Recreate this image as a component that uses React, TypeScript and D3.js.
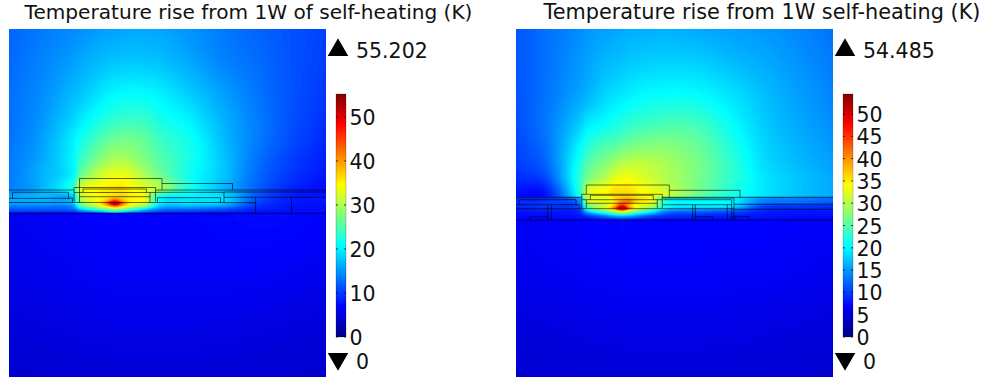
import React, { useMemo } from "react";
import * as d3 from "d3";

// ---------- data ----------
const titles = ["Temperature rise from 1W of self-heating (K)", "Temperature rise from 1W self-heating (K)"];
const maxValues = [55.202, 54.485];
const maxLabels = ["55.202", "54.485"];
const minLabels = ["0", "0"];
const ticksA = [0, 10, 20, 30, 40, 50];
const ticksB = [0, 5, 10, 15, 20, 25, 30, 35, 40, 45, 50];

// sample columns across each panel (panel units)
const gridX = [0, 31, 64, 71, 91, 99, 106, 113, 121, 136, 151, 181, 216, 246, 281, 317];

// panel A, film + air above the substrate
const aUpperY = [0, 30, 63, 90, 110, 130, 146, 160, 168, 172, 174, 177, 180, 183.5];
const aUpper = [
  [12.5, 13.5, 14.5, 14.8, 15.5, 15.7, 15.8, 16, 16.1, 16.1, 16, 15, 13.5, 12.5, 11.5, 10.5],
  [12.7, 14, 15.5, 16, 17, 17.3, 17.5, 17.6, 17.7, 17.6, 17.3, 16, 14, 13, 11.5, 10.3],
  [13, 14.5, 17, 17.5, 19.3, 20, 20.3, 20.5, 20.7, 20.5, 20, 18, 15.5, 13.5, 11.5, 10],
  [13, 15, 18.5, 19.5, 22, 22.8, 23.3, 23.6, 23.8, 23.5, 22, 20, 16.5, 14, 11.5, 9.5],
  [13.2, 15.5, 20, 21.5, 25, 26, 26.6, 27, 27, 26, 24, 21.5, 17, 14, 11.2, 9],
  [13.5, 16, 20.5, 23.5, 28, 29.3, 30, 30, 29.5, 27.5, 25.5, 22, 17.5, 13.5, 10.5, 8.5],
  [13.5, 16.5, 20.5, 26, 32, 33, 33.5, 33.7, 33, 30, 27, 21.5, 17.5, 13, 10, 8],
  [14, 16.5, 23, 32, 35, 35.5, 36, 36, 35, 33, 30, 22, 17, 12.5, 9, 7.5],
  [16, 17, 17.5, 30, 35, 36, 37, 37, 35.5, 33.5, 21, 20, 19, 12, 8.5, 8],
  [16, 16.5, 17.5, 28, 35, 39, 46, 39, 35, 33, 21, 19.5, 18.5, 11.5, 8.5, 8],
  [16, 16.5, 18, 28, 36, 44, 55.2, 44, 36, 33, 20.5, 19.5, 18, 11, 8.5, 8],
  [14, 14, 15, 24, 33, 37, 42, 37, 33, 28, 18, 17, 15, 10, 8, 7.5],
  [12, 12, 13, 18, 25, 28, 30, 28, 25, 19, 14, 13, 11.5, 9, 8, 7.5],
  [9, 9, 9, 10, 13, 16, 18, 16, 13, 11, 9.5, 9, 8.5, 8, 7.5, 7.5],
];
// panel A, substrate
const aLowerY = [184, 210, 250, 300, 348];
const aLower = [
  [6.3, 6.5, 6.7, 6.8, 7, 7, 7.1, 7, 7, 7, 7, 7, 7.2, 7.5, 7.3, 6.8],
  [6, 6.3, 6.5, 6.6, 6.8, 6.8, 6.9, 6.9, 6.9, 6.9, 6.9, 6.9, 7, 7.1, 7, 6.6],
  [5.6, 5.9, 6.2, 6.3, 6.4, 6.4, 6.5, 6.5, 6.5, 6.5, 6.5, 6.5, 6.5, 6.5, 6.2, 5.9],
  [5, 5.2, 5.4, 5.5, 5.6, 5.6, 5.7, 5.7, 5.7, 5.7, 5.7, 5.7, 5.6, 5.4, 5.2, 5],
  [4.4, 4.5, 4.6, 4.6, 4.7, 4.7, 4.7, 4.7, 4.7, 4.7, 4.7, 4.7, 4.7, 4.6, 4.5, 4.4],
];

// panel B, air above the film
const bUpperY = [0, 30, 66, 95, 115, 135, 150, 160, 167.5];
const bUpper = [
  [11.5, 13, 14.5, 15, 15.5, 15.8, 16, 16.2, 16.3, 16.4, 16.5, 16, 15.5, 15, 14.2, 13],
  [11.5, 13, 15, 15.6, 16.7, 17, 17.2, 17.5, 17.7, 17.9, 18, 17.8, 16.8, 16, 14.8, 13.5],
  [11.3, 13.2, 15.8, 16.5, 18.5, 19, 19.4, 19.8, 20.2, 20.6, 20.8, 20.6, 19, 17.3, 15.5, 14],
  [11, 13.5, 18, 19.5, 21, 21.8, 22.4, 23, 23.5, 24, 24.5, 24, 20.7, 18, 16, 14.5],
  [10.5, 13.2, 20, 22, 24.5, 25, 25.8, 26.4, 27, 27.3, 27.5, 26, 22, 18.5, 16.5, 15],
  [10, 12.5, 22, 25, 28, 29.5, 30.3, 30.8, 31, 30.5, 29.5, 27, 23, 19, 17, 15.5],
  [9, 11, 23, 27, 31, 33, 33.5, 33.8, 33, 31.5, 30, 27, 23, 19.5, 17.5, 16],
  [8, 9, 23, 31, 34, 35.5, 35.5, 35.5, 34.5, 33, 31, 27, 22.5, 19.5, 17.5, 16],
  [7.2, 8, 22, 31, 35, 36, 36.5, 36.5, 35, 33.5, 32, 26.5, 22, 19.5, 17.5, 16],
];
// panel B, film stack
const bFilmY = [168, 173, 177, 179, 181, 184, 187, 190.5];
const bFilm = [
  [8.5, 9.5, 16, 30, 33, 36, 37, 37, 36, 33, 22, 21, 20, 15, 14, 13],
  [9, 10, 14, 30, 33, 36, 41, 41, 36, 33, 22, 20.5, 20, 14, 13, 12],
  [9, 10, 12, 25, 32, 38, 47, 38, 33, 30, 21, 20, 19, 11, 10, 9.5],
  [8.5, 9.5, 12, 24, 34, 42, 54.4, 42, 34, 28, 20, 18, 17, 10, 9.5, 9],
  [8, 9, 10, 20, 30, 35, 42, 35, 30, 23, 16, 14.5, 13, 9.5, 8.5, 8.5],
  [7.5, 8, 9, 14, 22, 25, 28, 25, 22, 17, 12, 11, 10, 8.5, 8, 8],
  [7.3, 7.5, 8, 9.5, 14, 16, 17, 16, 14, 11, 9.5, 9, 8.5, 8, 7.5, 7.5],
  [7, 7, 7.3, 7.5, 8, 8.5, 9, 8.5, 8, 7.9, 7.8, 7.5, 7.5, 7.3, 7.2, 7],
];
// panel B, substrate
const bLowerY = [191, 215, 255, 300, 348];
const bLower = [
  [6.4, 6.6, 6.8, 6.9, 7, 7, 7.1, 7, 7, 7, 7, 7, 7, 7, 6.9, 6.7],
  [6.2, 6.4, 6.6, 6.7, 6.8, 6.8, 6.9, 6.9, 6.9, 6.9, 6.9, 6.9, 6.8, 6.8, 6.6, 6.4],
  [5.7, 6, 6.2, 6.3, 6.4, 6.4, 6.5, 6.5, 6.5, 6.5, 6.5, 6.5, 6.4, 6.3, 6.1, 5.8],
  [5, 5.2, 5.4, 5.5, 5.6, 5.6, 5.7, 5.7, 5.7, 5.7, 5.7, 5.7, 5.6, 5.4, 5.2, 5],
  [4.4, 4.5, 4.6, 4.6, 4.7, 4.7, 4.7, 4.7, 4.7, 4.7, 4.7, 4.7, 4.7, 4.6, 4.5, 4.4],
];

// device geometry outlines
type Pt = [number, number];
const aOutlines: Pt[][] = [
  [[70.5, 161], [70.5, 149.5], [153, 149.5], [153, 161]],
  [[153, 154.5], [223.5, 154.5], [223.5, 161]],
  [[0, 161], [65, 161]],
  [[146.5, 161], [317, 161]],
  [[65, 172.5], [65, 158.5], [146.5, 158.5], [146.5, 172.5]],
  [[65, 163.5], [74, 163.5], [74, 160], [137.5, 160], [137.5, 163.5], [146.5, 163.5]],
  [[74, 163.5], [137.5, 163.5]],
  [[70.5, 161], [70.5, 173.5]],
  [[141, 163.5], [141, 173.5]],
  [[70.5, 167.7], [141, 167.7]],
  [[3.5, 169.3], [3.5, 163.3], [59.5, 163.3], [59.5, 169.3]],
  [[0, 169.3], [63.5, 169.3], [63.5, 173.5]],
  [[146, 163.3], [215, 163.3], [215, 173.5]],
  [[148.5, 173.5], [148.5, 168.7], [211.5, 168.7], [211.5, 173.5]],
  [[215, 163], [317, 163]],
  [[215, 168.3], [317, 168.3]],
  [[215, 173.7], [246.6, 173.7]],
  [[246.6, 168.3], [246.6, 184.3]],
  [[282.5, 168.3], [282.5, 184.3]],
  [[0, 173.5], [215, 173.5]],
  [[0, 184.3], [317, 184.3]],
];
const bOutlines: Pt[][] = [
  [[70.3, 165], [70.3, 156], [153.3, 156], [153.3, 168]],
  [[153.3, 161.3], [224, 161.3], [224, 168.3]],
  [[0, 168.3], [65.7, 168.3]],
  [[146.3, 168.3], [317, 168.3]],
  [[65.7, 179.3], [65.7, 165.3], [146.3, 165.3], [146.3, 179.3]],
  [[65.7, 170.7], [74.3, 170.7], [74.3, 166.3], [137.3, 166.3], [137.3, 170.7], [146.3, 170.7]],
  [[74.3, 170.7], [137.3, 170.7]],
  [[70.3, 170.7], [70.3, 179.3]],
  [[141.3, 170.7], [141.3, 179.3]],
  [[70.3, 174.3], [141.3, 174.3]],
  [[3.3, 175.7], [3.3, 170.7], [60, 170.7], [60, 175.7]],
  [[0, 175.7], [63.3, 175.7], [63.3, 179.7]],
  [[146.3, 169], [218, 169], [218, 191]],
  [[147.3, 175.7], [215.7, 175.7]],
  [[147.3, 170.7], [215.7, 170.7]],
  [[215.7, 170.7], [215.7, 191]],
  [[218, 175.3], [317, 175.3]],
  [[218, 180.3], [317, 180.3]],
  [[0, 179.7], [218, 179.7]],
  [[0, 191], [317, 191]],
  [[31.7, 175.7], [31.7, 191]],
  [[35.3, 175.7], [35.3, 191]],
  [[176.7, 175.7], [176.7, 191]],
  [[179.3, 175.7], [179.3, 191]],
  [[211.3, 175.7], [211.3, 191]],
  [[14, 191], [14, 187.7], [31.7, 187.7]],
  [[179.3, 187.7], [197, 187.7], [197, 191]],
  [[215.7, 187.7], [233, 187.7], [233, 191]],
];

// ---------- helpers ----------
const FONT = "'DejaVu Sans', sans-serif";
const jetStops = [0, 0.125, 0.375, 0.625, 0.875, 1];
const jetColors = ["#000080", "#0000ff", "#00ffff", "#ffff00", "#ff0000", "#800000"];
const jet = d3.scaleLinear<string>().domain(jetStops).range(jetColors).clamp(true);

function hermite(xs: number[], vs: number[], t: number): number {
  const n = xs.length;
  if (t <= xs[0]) return vs[0];
  if (t >= xs[n - 1]) return vs[n - 1];
  const i = Math.min(n - 2, d3.bisectRight(xs, t) - 1);
  const h = xs[i + 1] - xs[i];
  const s = (t - xs[i]) / h;
  const m0 = i > 0 ? (vs[i + 1] - vs[i - 1]) / (xs[i + 1] - xs[i - 1]) : (vs[1] - vs[0]) / (xs[1] - xs[0]);
  const m1 = i < n - 2 ? (vs[i + 2] - vs[i]) / (xs[i + 2] - xs[i]) : (vs[n - 1] - vs[n - 2]) / (xs[n - 1] - xs[n - 2]);
  const s2 = s * s;
  const s3 = s2 * s;
  return (2 * s3 - 3 * s2 + 1) * vs[i] + (s3 - 2 * s2 + s) * h * m0 + (-2 * s3 + 3 * s2) * vs[i + 1] + (s3 - s2) * h * m1;
}

type Zone = { ys: number[]; rows: number[][] };
const PAD = 2;
const PW = 317;
const PH = 348;

function buildContours(zones: Zone[], maxV: number) {
  const w = PW + 2 * PAD + 1;
  const h = PH + 2 * PAD + 1;
  const vals = new Float64Array(w * h);
  for (let j = 0; j < h; j++) {
    const y = j - PAD;
    const zone = zones.find((z) => y < z.ys[z.ys.length - 1] + 0.5) ?? zones[zones.length - 1];
    const colVals = gridX.map((_, c) => hermite(zone.ys, zone.rows.map((r) => r[c]), y));
    for (let i = 0; i < w; i++) {
      vals[j * w + i] = Math.max(0, hermite(gridX, colVals, i - PAD));
    }
  }
  const thresholds = d3.range(0, maxV + 0.25, 0.25);
  const polys = d3.contours().size([w, h]).thresholds(thresholds)(vals as unknown as number[]);
  const gp = d3.geoPath();
  return polys
    .filter((p) => p.coordinates.length > 0)
    .map((p) => ({ d: gp(p) as string, value: p.value }));
}

type PanelProps = {
  idx: number;
  left: number;
  zones: Zone[];
  outlines: Pt[][];
  ticks: number[];
  titleX: number;
  titleSize: number;
};

const TOP = 29;
const BAR_TOP = 94;
const BAR_BOTTOM = 337;

function Panel({ idx, left, zones, outlines, ticks, titleX, titleSize }: PanelProps) {
  const maxV = maxValues[idx];
  const x = d3.scaleLinear().domain([0, PW]).range([left, left + PW]);
  const y = d3.scaleLinear().domain([0, PH]).range([TOP, TOP + PH]);
  const barScale = d3.scaleLinear().domain([0, maxV]).range([BAR_BOTTOM, BAR_TOP]);
  const color = (v: number) => jet(v / maxV);
  const polys = useMemo(() => buildContours(zones, maxV), [idx]);
  const line = d3.line<Pt>().x((d) => x(d[0])).y((d) => y(d[1]));
  const barLeft = left + PW + 10;
  const tri = d3.symbol().type(d3.symbolTriangle).size(182)() as string;
  return (
    <g>
      <text x={titleX} y={19} textAnchor="middle" fontFamily={FONT} fontSize={titleSize} fill="#111">
        {titles[idx]}
      </text>
      <defs>
        <clipPath id={`clip${idx}`}>
          <rect x={x(0)} y={y(0)} width={PW} height={PH} />
        </clipPath>
        <linearGradient id={`grad${idx}`} x1="0" x2="0" y1="1" y2="0">
          {jetStops.map((s, i) => (
            <stop key={i} offset={s} stopColor={jetColors[i]} />
          ))}
        </linearGradient>
      </defs>
      <g clipPath={`url(#clip${idx})`}>
        <rect x={x(0)} y={y(0)} width={PW} height={PH} fill={color(0)} />
        <g transform={`translate(${x(0) - PAD - 0.5},${y(0) - PAD - 0.5})`}>
          {polys.map((p, i) => (
            <path key={i} d={p.d} fill={color(p.value)} />
          ))}
        </g>
        {outlines.map((o, i) => (
          <path key={i} d={line(o) as string} fill="none" stroke="#000" strokeOpacity={0.58} strokeWidth={1} />
        ))}
      </g>
      {/* colour bar */}
      <rect
        x={barLeft}
        y={BAR_TOP}
        width={10}
        height={BAR_BOTTOM - BAR_TOP}
        fill={`url(#grad${idx})`}
        stroke="#000"
        strokeOpacity={0.35}
        strokeWidth={0.6}
      />
      {ticks.map((t) => (
        <g key={t}>
          <line x1={barLeft} x2={barLeft + 2} y1={barScale(t)} y2={barScale(t)} stroke="#000" strokeOpacity={0.7} />
          <line x1={barLeft + 8} x2={barLeft + 10} y1={barScale(t)} y2={barScale(t)} stroke="#000" strokeOpacity={0.7} />
          <text x={barLeft + 13.5} y={barScale(t) + 8} fontFamily={FONT} fontSize={20.5} fill="#111">
            {t}
          </text>
        </g>
      ))}
      {/* max / min markers */}
      <path d={tri} transform={`translate(${left + PW + 12},${50})`} fill="#000" />
      <text x={left + PW + 30} y={57.5} fontFamily={FONT} fontSize={20.5} fill="#111">
        {maxLabels[idx]}
      </text>
      <path d={tri} transform={`translate(${left + PW + 12},${358.8}) rotate(180)`} fill="#000" />
      <text x={left + PW + 30} y={369} fontFamily={FONT} fontSize={20.5} fill="#111">
        {minLabels[idx]}
      </text>
    </g>
  );
}

export default function App() {
  return (
    <svg width={984} height={380} style={{ position: "absolute", left: 0, top: 0, background: "#fff" }}>
      <Panel
        idx={0}
        left={9}
        titleX={248.5}
        titleSize={20.1}
        ticks={ticksA}
        outlines={aOutlines}
        zones={[
          { ys: aUpperY, rows: aUpper },
          { ys: aLowerY, rows: aLower },
        ]}
      />
      <Panel
        idx={1}
        left={516}
        titleX={762}
        titleSize={20.8}
        ticks={ticksB}
        outlines={bOutlines}
        zones={[
          { ys: bUpperY, rows: bUpper },
          { ys: bFilmY, rows: bFilm },
          { ys: bLowerY, rows: bLower },
        ]}
      />
    </svg>
  );
}
